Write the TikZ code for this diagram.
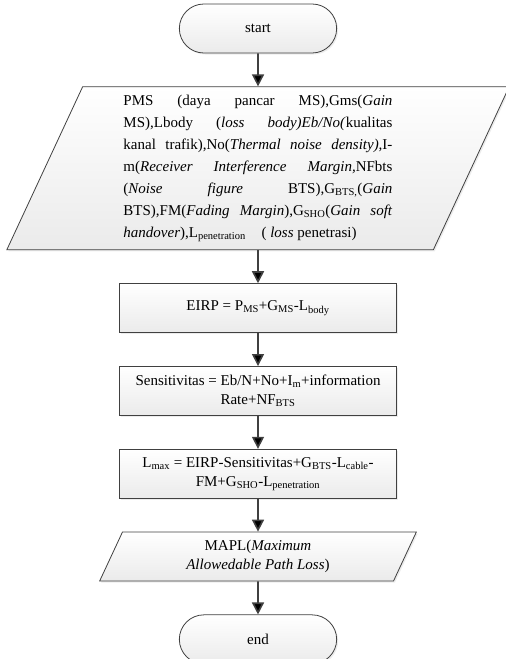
\documentclass[tikz,border=0pt]{standalone}
\usepackage{fontspec}
\setmainfont{Liberation Serif}
\usepackage{tikz}
\usetikzlibrary{arrows.meta,positioning,shapes.geometric,shapes.misc,shadows}

\definecolor{linegray}{HTML}{404040}
\newcommand{\fullline}[1]{\makebox[269pt][s]{\spaceskip=0pt\xspaceskip=0pt\relax #1}}

\begin{document}
\begin{tikzpicture}[x=1pt,y=1pt,
    node distance=33pt,
    every node/.style={font=\fontsize{15}{19}\selectfont},
    box/.style={draw=linegray, line width=0.8pt, top color=white, bottom color=black!8,
        drop shadow={shadow xshift=1.5pt, shadow yshift=-1.5pt, opacity=0.15}},
    terminal/.style={box, rounded rectangle, minimum width=164pt, minimum height=49pt},
    process/.style={box, rectangle, minimum width=277pt, minimum height=49pt, align=center},
    inout/.style={box, trapezium, trapezium left angle=65, trapezium right angle=115, align=center},
    flow/.style={-{Triangle[length=12pt,width=12pt]}, draw=linegray, line width=1.6pt}]
\useasboundingbox (0,0) rectangle (506,-659);
\node[terminal] (start) at (258,-28.5) {start};
\node[inout, below=of start, text width=269pt, inner xsep=31pt, minimum height=163pt,
    font=\fontsize{15}{22}\selectfont, align=justify] (input) {%
\fullline{PMS (daya pancar MS),Gms(\textit{Gain}}\\
\fullline{MS),Lbody (\textit{loss body)Eb/No(}kualitas}\\
\fullline{kanal trafik),No(\textit{Thermal noise density),}I-}\\
\fullline{m(\textit{Receiver Interference Margin,}NFbts}\\
\fullline{(\textit{Noise figure} BTS),G\textsubscript{BTS,}(\textit{Gain}}\\
\fullline{BTS),FM(\textit{Fading Margin}),G\textsubscript{SHO}(\textit{Gain soft}}\\
\textit{handover}),L\textsubscript{penetration}\hspace{12pt} ( \textit{loss} penetrasi)};
\node[process, below=of input] (eirp) {EIRP = P\textsubscript{MS}+G\textsubscript{MS}-L\textsubscript{body}};
\node[process, below=of eirp] (sens) {Sensitivitas = Eb/N+No+I\textsubscript{m}+information\\
    Rate+NF\textsubscript{BTS}};
\node[process, below=of sens] (lmax) {L\textsubscript{max} = EIRP-Sensitivitas+G\textsubscript{BTS}-L\textsubscript{cable}-\\
    FM+G\textsubscript{SHO}-L\textsubscript{penetration}};
\node[inout, below=of lmax, inner xsep=37pt, minimum height=49pt] (mapl) {MAPL(\textit{Maximum}\\
    \textit{Allowedable Path Loss})};
\node[terminal, below=of mapl] (stop) {end};
\path[flow] (start) edge (input);
\path[flow] (input) edge (eirp);
\path[flow] (eirp) edge (sens);
\path[flow] (sens) edge (lmax);
\path[flow] (lmax) edge (mapl);
\path[flow] (mapl) edge (stop);
\end{tikzpicture}
\end{document}
